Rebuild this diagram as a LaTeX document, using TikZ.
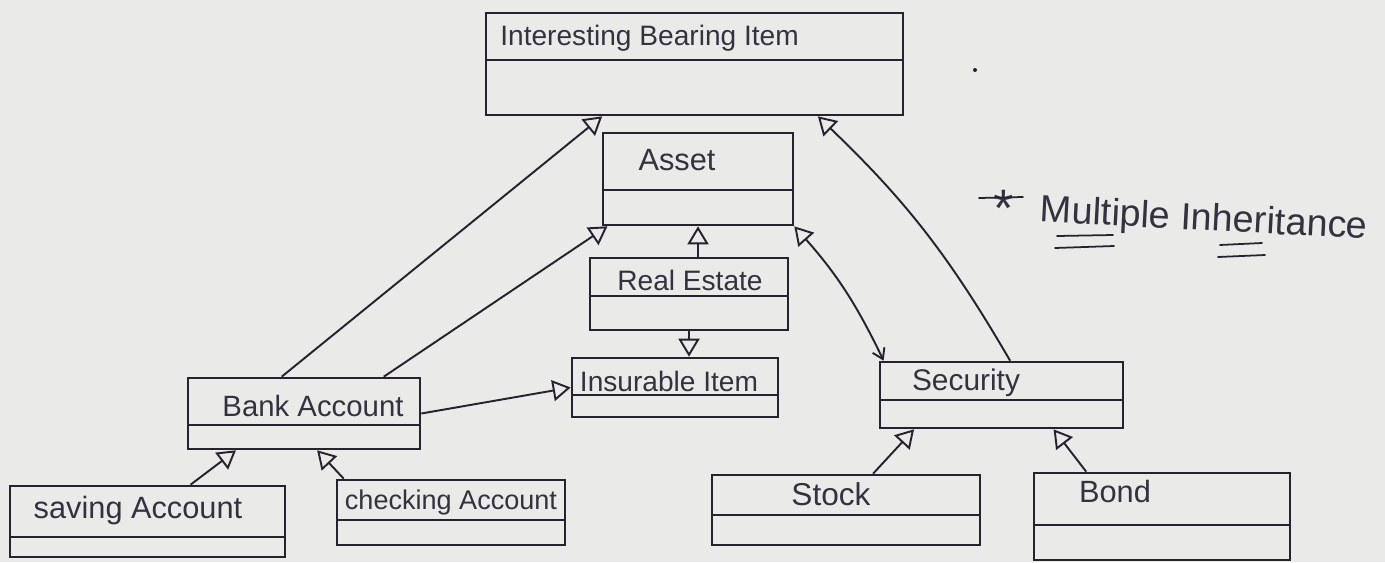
\documentclass[tikz,border=0pt]{standalone}
\usepackage{fontspec}
\setmainfont{Liberation Sans}
\usetikzlibrary{arrows.meta,calc,fit}

\definecolor{paper}{HTML}{EAEAE8}
\definecolor{ink}{HTML}{26222F}
\definecolor{pencil}{HTML}{34323E}

\tikzset{
  gen/.tip={Triangle[open, length=3.6mm, width=4.2mm]},
  classbox/.style={draw=ink, line width=1.5pt, inner sep=0pt},
  classline/.style={draw=ink, line width=1.1pt},
  classname/.style={text=pencil, font=\fontsize{#1}{#1}\selectfont, inner sep=0pt},
  classname/.default=16,
  inherit/.style={draw=ink, line width=1.1pt, -gen},
  notetext/.style={text=pencil, font=\fontsize{21.5}{25}\selectfont, inner sep=0pt},
  underline/.style={draw=ink, line width=1pt, line cap=round},
}

% a class box: name, left, top, right, bottom, y of the compartment line
\newcommand\umlclass[6]{%
  \node[classbox, fit={(#2,#3) (#4,#5)}] (#1) {};
  \draw[classline] (#2,#6) -- (#4,#6);
}

\begin{document}
\begin{tikzpicture}[x=0.02cm, y=-0.02cm]
  \fill[paper] (0,0) rectangle (1385,562);
  \useasboundingbox (0,0) rectangle (1385,562);

  % classes
  \umlclass{ibi}{486}{13}{903}{115}{60}
  \umlclass{asset}{603}{133}{793}{225}{190}
  \umlclass{re}{590}{258}{788}{330}{296}
  \umlclass{ins}{572}{358}{778}{417}{395}
  \umlclass{bank}{188}{378}{420}{449}{425}
  \umlclass{sec}{880}{362}{1123}{428}{400}
  \umlclass{sav}{10}{486}{285}{557}{537}
  \umlclass{chk}{337}{480}{565}{545}{520}
  \umlclass{stock}{712}{475}{980}{545}{515}
  \umlclass{bond}{1034}{473}{1290}{560}{525}

  % class names
  \node[classname, anchor=west] (ibi-t) at (500,38) {Interesting Bearing Item};
  \node[classname=17.5] (asset-t) at (677,160) {Asset};
  \node[classname] (re-t) at (690,280) {Real Estate};
  \node[classname] (ins-t) at (669,381) {Insurable Item};
  \node[classname=16.7] (bank-t) at (313,406) {Bank Account};
  \node[classname=17] (sec-t) at (966,383) {Security};
  \node[classname=17.5] (sav-t) at (138,511) {saving Account};
  \node[classname=15.4] (chk-t) at (451,502) {checking Account};
  \node[classname=18] (stock-t) at (831,494) {Stock};
  \node[classname=17.5] (bond-t) at (1115,491) {Bond};

  % generalisations
  \draw[inherit] ($(bank.north west)!0.405!(bank.north east)$) -- ($(ibi.south west)!0.28!(ibi.south east)$);
  \draw[inherit] ($(bank.north west)!0.84!(bank.north east)$) -- ($(asset.south west)!0.03!(asset.south east)$);
  \draw[inherit] (asset.south |- re.north) -- (asset.south);
  \draw[inherit] (re.south) -- (re.south |- ins.north);
  \draw[inherit] (bank.east) -- (ins.west);
  \draw[draw=ink, line width=1.1pt, {Straight Barb[length=2mm, width=2.6mm]}-gen]
    ($(sec.north west)!0.02!(sec.north east)$) to[bend right=8] (asset.south east);
  \draw[inherit] ($(sec.north west)!0.535!(sec.north east)$) to[bend right=8] ($(ibi.south west)!0.794!(ibi.south east)$);
  \draw[inherit] ($(sav.north west)!0.655!(sav.north east)$) -- ($(bank.south west)!0.21!(bank.south east)$);
  \draw[inherit] ($(chk.north west)!0.035!(chk.north east)$) -- ($(bank.south west)!0.556!(bank.south east)$);
  \draw[inherit] ($(stock.north west)!0.6!(stock.north east)$) -- ($(sec.south west)!0.144!(sec.south east)$);
  \draw[inherit] ($(bond.north west)!0.207!(bond.north east)$) -- ($(sec.south west)!0.712!(sec.south east)$);

  % note
  \node[text=pencil, font=\fontsize{30}{30}\selectfont, inner sep=0pt, anchor=base] (star) at (1004,226) {*};
  \draw[underline] (979,198) -- (1023,197);
  \node[notetext, anchor=west, rotate=-3] (note) at (1040,212) {Multiple Inheritance};
  \draw[underline] (1057,236) -- (1113,235);
  \draw[underline] (1055,248) -- (1114,246);
  \draw[underline] (1220,245) -- (1262,243);
  \draw[underline] (1218,257) -- (1265,255);

  % stray pen mark
  \fill[ink] (975,70) circle (2);
\end{tikzpicture}
\end{document}
